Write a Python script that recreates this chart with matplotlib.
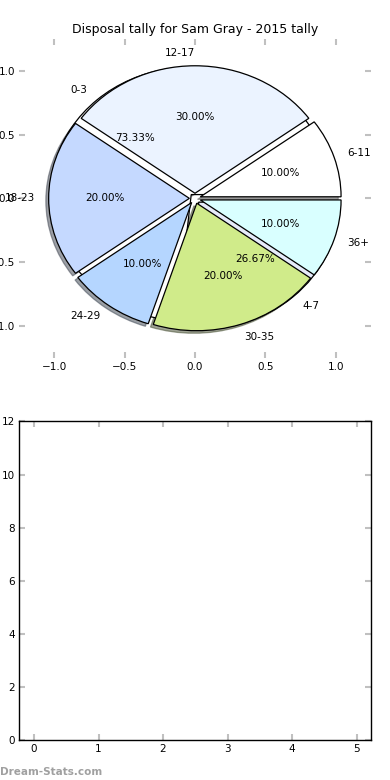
import numpy as np
import matplotlib
matplotlib.use('Agg')
import matplotlib.pyplot as plt

# first pie (drawn underneath)
labels_a = ['0-3', '4-7']
values_a = [11, 4]
colors_a = ['#ffffff', '#e6ebfa']

# second pie (drawn on top)
labels_b = ['6-11', '12-17', '18-23', '24-29', '30-35', '36+']
values_b = [1, 3, 2, 1, 2, 1]
colors_b = ['#ffffff', '#ebf3ff', '#c5d9ff', '#b5d6ff', '#d0eb8a', '#d9ffff']

title = 'Disposal tally for Sam Gray - 2015 tally'
pie_ticks = [-1.0, -0.5, 0.0, 0.5, 1.0]
bar_xticks = [0, 1, 2, 3, 4, 5]
bar_yticks = [0, 2, 4, 6, 8, 10, 12]

fig = plt.figure(figsize=(3.9, 7.8), dpi=100)
fig.subplots_adjust(left=0.049, right=0.951, top=0.95, bottom=0.051, hspace=0.2)

ax = fig.add_subplot(2, 1, 1)
wp = {'edgecolor': 'black', 'linewidth': 0.9}
tp = {'fontsize': 7.5}
# shadow offset is scaled by dpi/72, so undo that to get ~0.02 data units
sh = {'ox': -0.02 * 72 / 100, 'oy': -0.02 * 72 / 100}
ax.pie(values_a, labels=labels_a, colors=colors_a, explode=[0.04] * 2,
       autopct='%.2f%%', shadow=False, wedgeprops=wp, textprops=tp)
ax.pie(values_b, labels=labels_b, colors=colors_b, explode=[0.04] * 6,
       autopct='%.2f%%', shadow=sh, wedgeprops=wp, textprops=tp)
ax.set_aspect('auto')
ax.set_xlim(-1.25, 1.25)
ax.set_ylim(-1.25, 1.25)
ax.set_xticks(pie_ticks)
ax.set_yticks(pie_ticks)
ax.set_frame_on(False)
ax.set_title(title, fontsize=9, pad=4)

ax2 = fig.add_subplot(2, 1, 2)
ax2.set_xlim(-0.23, 5.22)
ax2.set_ylim(0, 12)
ax2.set_xticks(bar_xticks)
ax2.set_yticks(bar_yticks)
for s in ax2.spines.values():
    s.set_linewidth(1.0)

for a in (ax, ax2):
    a.tick_params(direction='in', length=4, width=1.5, color='#c0c0c0',
                  top=True, right=True, labelsize=7.5, pad=3)

fig.text(0.0, 0.004, 'Dream-Stats.com', color='#a0a0a0', fontsize=7.5,
         fontweight='bold', ha='left', va='bottom')

fig.savefig('out.png', dpi=100)
